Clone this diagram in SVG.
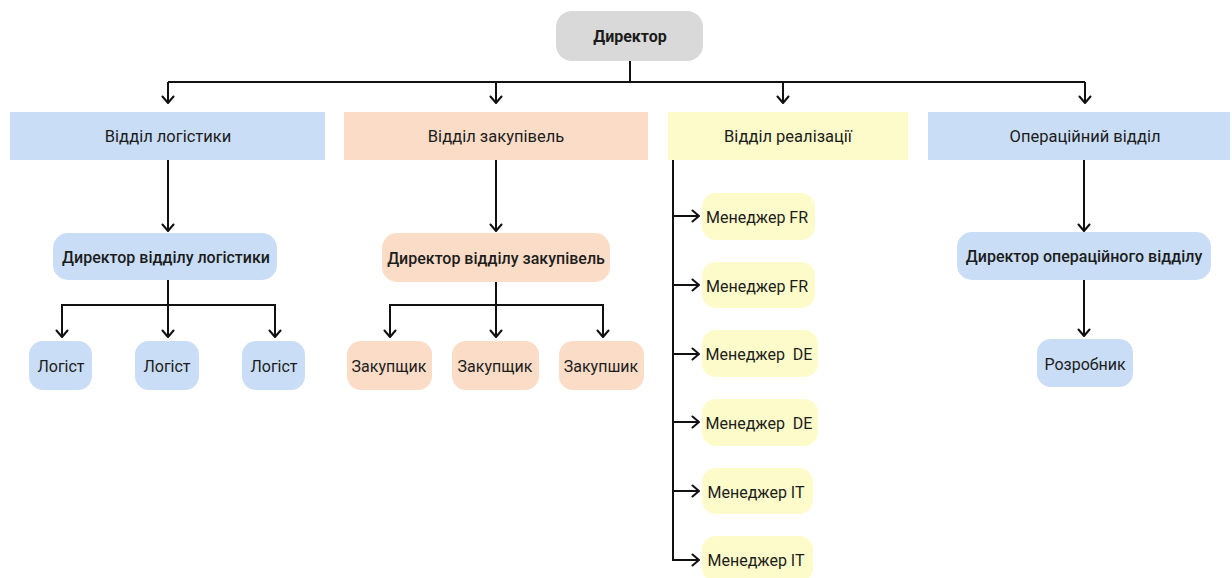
<svg xmlns="http://www.w3.org/2000/svg" width="1232" height="578" viewBox="0 0 1232 578">
<defs>
<marker id="arr" viewBox="0 0 14 14" refX="13" refY="7" markerWidth="14" markerHeight="14" markerUnits="userSpaceOnUse" orient="auto">
<path d="M6.5,1.5 L13,7 L6.5,12.5" fill="none" stroke="#111" stroke-width="2" stroke-linecap="round" stroke-linejoin="round"/>
</marker>
<style>
text{font-family:Roboto,"Liberation Sans",sans-serif;fill:#1c1c1c;text-anchor:middle;dominant-baseline:central}
.top{font-size:16px;font-weight:700}
.dept{font-size:16.5px;font-weight:400}
.dir{font-size:16px;font-weight:500}
.leaf{font-size:16px;font-weight:400}
.gray{fill:#d9d9d9}
.blue{fill:#c9ddf6}
.peach{fill:#fbdcc7}
.yellow{fill:#fdfbc9}
.c{fill:none;stroke:#111;stroke-width:2}
.a{fill:none;stroke:#111;stroke-width:2;marker-end:url(#arr)}
</style>
</defs>
<rect width="1232" height="578" fill="#ffffff"/>
<g id="connectors">
<path class="c" d="M630,61 V82 M168,82 H1085"/>
<path class="a" d="M168,82 V103"/>
<path class="a" d="M496,82 V103"/>
<path class="a" d="M783,82 V103"/>
<path class="a" d="M1085,82 V103"/>
<path class="a" d="M168,160 V231"/>
<path class="a" d="M496,160 V231"/>
<path class="a" d="M1084,160 V231"/>
<path class="c" d="M62,305 H275"/>
<path class="a" d="M62,304 V337"/>
<path class="a" d="M168,280 V337"/>
<path class="a" d="M275,304 V337"/>
<path class="c" d="M390,305 H603"/>
<path class="a" d="M390,304 V337"/>
<path class="a" d="M496,282 V337"/>
<path class="a" d="M603,304 V337"/>
<path class="a" d="M1084,280 V336"/>
<path class="c" d="M673,160 V561"/>
<path class="a" d="M672,216 H699"/>
<path class="a" d="M672,285 H699"/>
<path class="a" d="M672,354 H699"/>
<path class="a" d="M672,422 H699"/>
<path class="a" d="M672,491 H699"/>
<path class="a" d="M672,560 H699"/>
</g>
<g id="director"><rect class="gray" x="556" y="11" width="147" height="50" rx="16"/><text class="top" x="630" y="36">Директор</text></g>
<g id="dept-logistics"><rect class="blue" x="10" y="112" width="315" height="48"/><text class="dept" x="168" y="136">Відділ логістики</text></g>
<g id="dept-purchases"><rect class="peach" x="344" y="112" width="304" height="48"/><text class="dept" x="496" y="136">Відділ закупівель</text></g>
<g id="dept-sales"><rect class="yellow" x="668" y="112" width="240" height="48"/><text class="dept" x="788" y="136">Відділ реалізації</text></g>
<g id="dept-operations"><rect class="blue" x="928" y="112" width="302" height="48"/><text class="dept" x="1085" y="136">Операційний відділ</text></g>
<g id="dir-logistics"><rect class="blue" x="53" y="233" width="224" height="47" rx="15"/><text class="dir" x="166" y="257">Директор відділу логістики</text></g>
<g id="dir-purchases"><rect class="peach" x="382" y="233" width="228" height="49" rx="15"/><text class="dir" x="496" y="258">Директор відділу закупівель</text></g>
<g id="dir-operations"><rect class="blue" x="957" y="232" width="254" height="48" rx="15"/><text class="dir" x="1084" y="256">Директор операційного відділу</text></g>
<g id="logist-1"><rect class="blue" x="29" y="341" width="63" height="49" rx="14"/><text class="leaf" x="61" y="366">Логіст</text></g>
<g id="logist-2"><rect class="blue" x="135" y="341" width="64" height="49" rx="14"/><text class="leaf" x="167" y="366">Логіст</text></g>
<g id="logist-3"><rect class="blue" x="242" y="341" width="63" height="49" rx="14"/><text class="leaf" x="274" y="366">Логіст</text></g>
<g id="buyer-1"><rect class="peach" x="347" y="341" width="85" height="49" rx="14"/><text class="leaf" x="389" y="366">Закупщик</text></g>
<g id="buyer-2"><rect class="peach" x="452" y="341" width="87" height="49" rx="14"/><text class="leaf" x="495" y="366">Закупщик</text></g>
<g id="buyer-3"><rect class="peach" x="559" y="341" width="85" height="49" rx="14"/><text class="leaf" x="601" y="366">Закупшик</text></g>
<g id="manager-fr-1"><rect class="yellow" x="702" y="193" width="113" height="47" rx="14"/><text class="leaf" x="757" y="217">Менеджер FR</text></g>
<g id="manager-fr-2"><rect class="yellow" x="702" y="262" width="113" height="46" rx="14"/><text class="leaf" x="757" y="286">Менеджер FR</text></g>
<g id="manager-de-1"><rect class="yellow" x="702" y="330" width="116" height="47" rx="14"/><text class="leaf" x="759" y="354" xml:space="preserve">Менеджер  DE</text></g>
<g id="manager-de-2"><rect class="yellow" x="702" y="399" width="116" height="47" rx="14"/><text class="leaf" x="759" y="423" xml:space="preserve">Менеджер  DE</text></g>
<g id="manager-it-1"><rect class="yellow" x="702" y="468" width="111" height="46" rx="14"/><text class="leaf" x="756" y="492">Менеджер IT</text></g>
<g id="manager-it-2"><rect class="yellow" x="702" y="536" width="111" height="46" rx="14"/><text class="leaf" x="756" y="560">Менеджер IT</text></g>
<g id="developer"><rect class="blue" x="1037" y="339" width="96" height="48" rx="14"/><text class="leaf" x="1085" y="364">Розробник</text></g>
</svg>
